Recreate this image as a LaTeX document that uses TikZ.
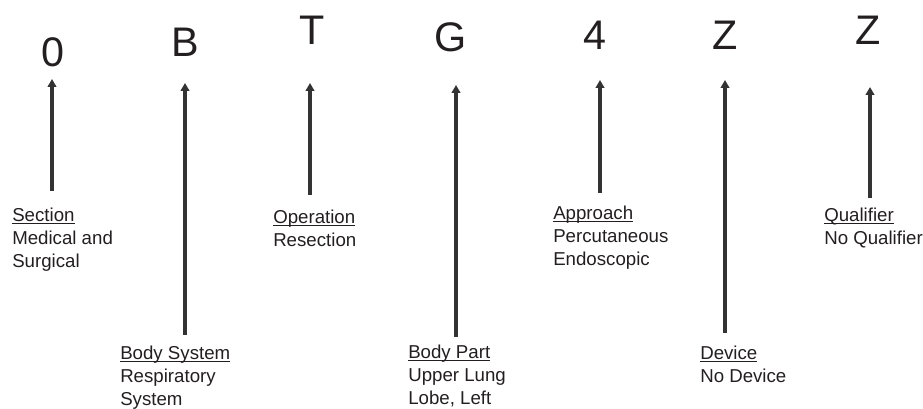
\documentclass[tikz,border=0pt]{standalone}
\usepackage{fontspec}
\setmainfont{Liberation Sans}
\usetikzlibrary{arrows.meta}
\definecolor{inkgrey}{HTML}{231F20}
\definecolor{stemgrey}{HTML}{333333}
\newcommand{\fieldname}[1]{\underline{\smash{#1}}\vphantom{#1}}
\tikzset{
  codechar/.style={anchor=base, inner sep=0, text=inkgrey,
                   font=\fontsize{31}{31}\selectfont},
  codelabel/.style={anchor=north west, inner sep=0, align=left, text=inkgrey,
                    font=\fontsize{14}{17.3}\selectfont},
  codearrow/.style={-{Triangle[length=6pt,width=6.5pt]}, line width=2.6pt,
                    draw=stemgrey},
}
\begin{document}
\begin{tikzpicture}[x=0.75pt, y=-0.75pt]
  \useasboundingbox (0,0) rectangle (923,409);

  % --- characters of the code ---
  \node[codechar] (csec)  at (53,67)  {0};
  \node[codechar] (csys)  at (185,57) {B};
  \node[codechar] (cop)   at (312,45) {T};
  \node[codechar] (cpart) at (451,52) {G};
  \node[codechar] (capp)  at (595,50) {4};
  \node[codechar] (cdev)  at (725,50) {Z};
  \node[codechar] (cqual) at (868,45) {Z};

  % --- labels under the arrows (top of first line) ---
  \node[codelabel] (lsec)  at (12,208)  {\fieldname{Section}\\Medical and\\Surgical};
  \node[codelabel] (lsys)  at (120,346) {\fieldname{Body System}\\Respiratory\\System};
  \node[codelabel] (lop)   at (273,210) {\fieldname{Operation}\\Resection};
  \node[codelabel] (lpart) at (408,345) {\fieldname{Body Part}\\Upper Lung\\Lobe, Left};
  \node[codelabel] (lapp)  at (553,206) {\fieldname{Approach}\\Percutaneous\\Endoscopic};
  \node[codelabel] (ldev)  at (700,346) {\fieldname{Device}\\No Device};
  \node[codelabel] (lqual) at (824,208) {\fieldname{Qualifier}\\No Qualifier};

  % --- arrow ends ---
  \coordinate (ssec)  at (52,191);  \coordinate (tsec)  at (52,79);
  \coordinate (ssys)  at (185,335); \coordinate (tsys)  at (185,83);
  \coordinate (sop)   at (310,195); \coordinate (top)   at (310,83);
  \coordinate (spart) at (456,337); \coordinate (tpart) at (456,85);
  \coordinate (sapp)  at (600,193); \coordinate (tapp)  at (600,80);
  \coordinate (sdev)  at (725,333); \coordinate (tdev)  at (725,80);
  \coordinate (squal) at (870,198); \coordinate (tqual) at (870,87);

  % --- arrows ---
  \draw[codearrow] (ssec)  -- (tsec);
  \draw[codearrow] (ssys)  -- (tsys);
  \draw[codearrow] (sop)   -- (top);
  \draw[codearrow] (spart) -- (tpart);
  \draw[codearrow] (sapp)  -- (tapp);
  \draw[codearrow] (sdev)  -- (tdev);
  \draw[codearrow] (squal) -- (tqual);

\end{tikzpicture}
\end{document}
